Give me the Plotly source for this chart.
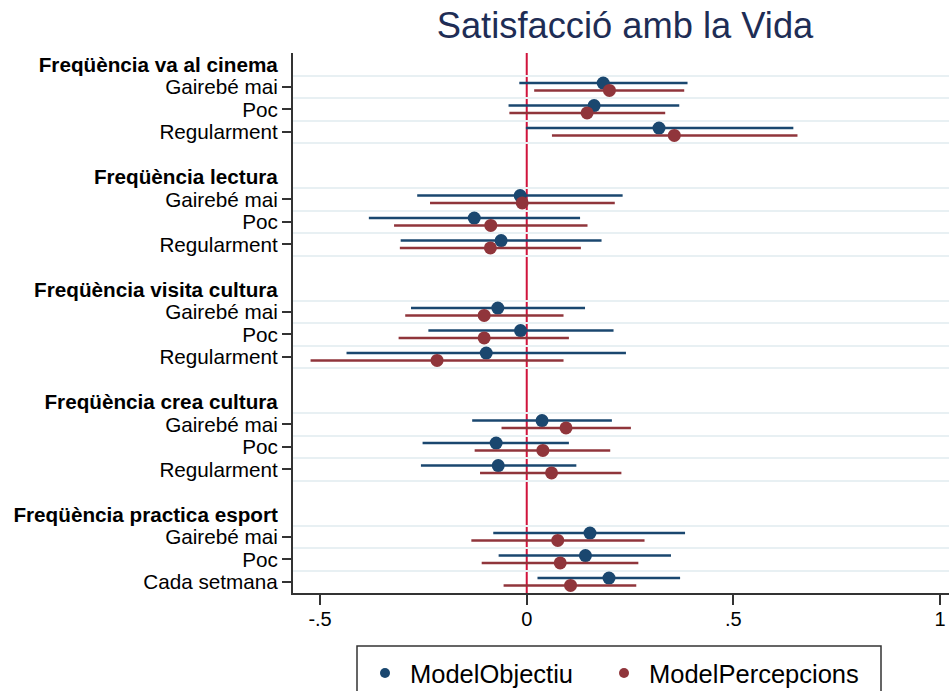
import plotly.graph_objects as go

# ---- data ----
groups = ["Freqüència va al cinema", "Freqüència lectura", "Freqüència visita cultura",
          "Freqüència crea cultura", "Freqüència practica esport"]
items = [["Gairebé mai", "Poc", "Regularment"],
         ["Gairebé mai", "Poc", "Regularment"],
         ["Gairebé mai", "Poc", "Regularment"],
         ["Gairebé mai", "Poc", "Regularment"],
         ["Gairebé mai", "Poc", "Cada setmana"]]

obj_est = [0.185, 0.163, 0.320, -0.016, -0.127, -0.062, -0.070, -0.015, -0.098, 0.037, -0.074, -0.069, 0.153, 0.142, 0.199]
obj_lo = [-0.018, -0.044, -0.002, -0.265, -0.382, -0.305, -0.280, -0.238, -0.436, -0.132, -0.252, -0.256, -0.081, -0.068, 0.026]
obj_hi = [0.389, 0.369, 0.645, 0.232, 0.129, 0.181, 0.141, 0.210, 0.240, 0.206, 0.102, 0.120, 0.383, 0.349, 0.371]

per_est = [0.200, 0.146, 0.357, -0.011, -0.087, -0.088, -0.103, -0.103, -0.217, 0.095, 0.039, 0.060, 0.075, 0.081, 0.106]
per_lo = [0.018, -0.042, 0.061, -0.234, -0.321, -0.307, -0.294, -0.310, -0.523, -0.061, -0.126, -0.113, -0.134, -0.109, -0.056]
per_hi = [0.381, 0.335, 0.655, 0.213, 0.147, 0.131, 0.089, 0.102, 0.089, 0.252, 0.202, 0.229, 0.285, 0.270, 0.265]

series_names = ["ModelObjectiu", "ModelPercepcions"]
x_ticks = [-0.5, 0, 0.5, 1]
x_ticklabels = ["-.5", "0", ".5", "1"]
title_text = "Satisfacció amb la Vida"

# ---- layout of rows ----
header_rows, header_labels = [], []
item_rows, item_labels = [], []
grid_rows = []
row = 0
for g, its in zip(groups, items):
    header_rows.append(row)
    header_labels.append("<b>" + g + "</b>")
    for k, it in enumerate(its):
        item_rows.append(row + 1 + k)
        item_labels.append(it)
    grid_rows += [row + 0.5 + k for k in range(len(its) + 1)]
    row += len(its) + 2
n_rows = row - 1

BLUE = "#1a476f"
RED = "#90353b"
FONT = "Liberation Sans, Arial, Helvetica, sans-serif"
off = 0.165

W, H = 949, 691
L, T, B = 293, 52.5, 98
plot_w = W - L
plot_h = H - T - B


def px_x(p):
    return (p - L) / plot_w


def px_y(p):
    return (H - B - p) / plot_h


fig = go.Figure()
for name, est, lo, hi, col, sgn in [
    (series_names[0], obj_est, obj_lo, obj_hi, BLUE, -1),
    (series_names[1], per_est, per_lo, per_hi, RED, 1),
]:
    fig.add_trace(go.Scatter(
        x=est, y=[r + sgn * off for r in item_rows], mode="markers",
        marker=dict(color=col, size=13),
        error_x=dict(type="data", symmetric=False,
                     array=[h - e for h, e in zip(hi, est)],
                     arrayminus=[e - l for e, l in zip(est, lo)],
                     color=col, thickness=2.5, width=0),
        showlegend=False, name=name))
for name, col, lg in zip(series_names, [BLUE, RED], ["legend", "legend2"]):
    fig.add_trace(go.Scatter(x=[None], y=[None], mode="markers",
                             marker=dict(color=col, size=10), name=name, legend=lg))

fig.add_vline(x=0, line=dict(color="#d0143c", width=2), layer="below")
# legend frame
fig.add_shape(type="rect", xref="paper", yref="paper",
              x0=px_x(357), x1=px_x(881), y0=px_y(646), y1=px_y(705),
              line=dict(color="#333", width=1.5), fillcolor="rgba(0,0,0,0)")

leg_common = dict(orientation="h", xanchor="left", yanchor="top",
                  y=px_y(650), borderwidth=0, bgcolor="rgba(0,0,0,0)",
                  font=dict(size=25.5), itemwidth=40)

yr = [n_rows - 0.5, -0.5]
fig.update_layout(
    width=W, height=H,
    paper_bgcolor="white", plot_bgcolor="white",
    margin=dict(l=L, r=0, t=T, b=B, autoexpand=False),
    font=dict(family=FONT, color="black"),
    title=dict(text=title_text, x=625 / W, xref="container", xanchor="center",
               y=1 - 25.5 / H, yanchor="middle",
               font=dict(size=36.3, color="#1e2d55", family=FONT)),
    xaxis=dict(range=[-0.5655, 1.0216], tickvals=x_ticks, ticktext=x_ticklabels,
               ticks="outside", ticklen=10, tickwidth=1.5, tickcolor="#333",
               showline=True, linecolor="#333", linewidth=1.5,
               showgrid=False, zeroline=False, tickfont=dict(size=20),
               ticklabelstandoff=-3),
    yaxis=dict(range=yr, tickvals=grid_rows, showticklabels=False, ticks="",
               showgrid=True, gridcolor="#e8f0f3", gridwidth=2,
               showline=True, linecolor="#333", linewidth=1.5, zeroline=False),
    yaxis2=dict(range=yr, overlaying="y", side="left", tickvals=item_rows,
                ticktext=item_labels, ticks="outside", ticklen=10, tickwidth=1.5,
                tickcolor="#333", showgrid=False, zeroline=False, showline=False,
                tickfont=dict(size=20.7)),
    yaxis3=dict(range=yr, overlaying="y", side="left", tickvals=header_rows,
                ticktext=header_labels, ticks="outside", ticklen=10,
                tickcolor="rgba(0,0,0,0)", showgrid=False, zeroline=False,
                showline=False, tickfont=dict(size=20.7)),
    legend=dict(x=px_x(360), **leg_common),
    legend2=dict(x=px_x(599), **leg_common),
)
# dummy traces to make the overlay axes render
fig.add_trace(go.Scatter(x=[None], y=[None], yaxis="y2", showlegend=False))
fig.add_trace(go.Scatter(x=[None], y=[None], yaxis="y3", showlegend=False))

fig.write_html("out.html",
               config={"displayModeBar": False},
               post_script="document.body.style.margin='0';"
                           "document.documentElement.style.overflow='hidden';")
